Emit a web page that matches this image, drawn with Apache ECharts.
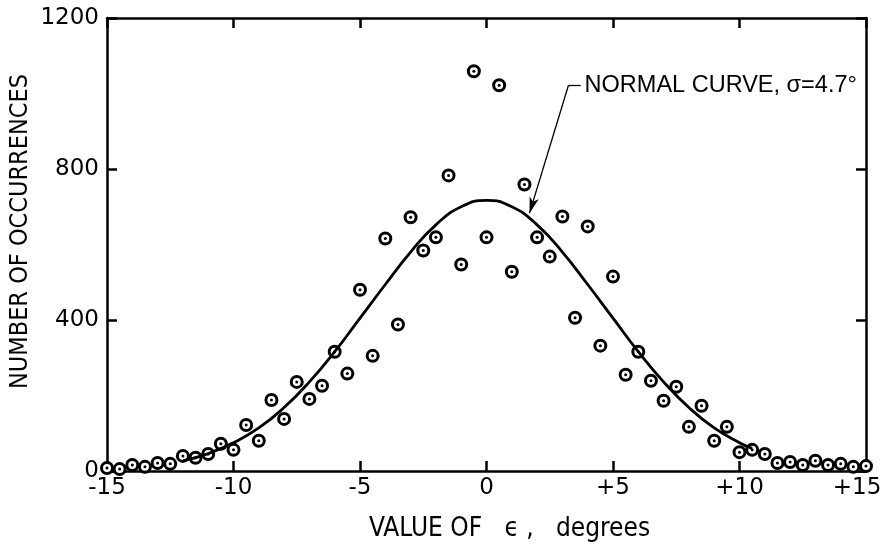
<!DOCTYPE html>
<html>
<head>
<meta charset="utf-8">
<script src="https://cdn.jsdelivr.net/npm/echarts@6/dist/echarts.min.js"></script>
<style>html,body{margin:0;padding:0;background:#fff;}#c{width:881px;height:549px;}</style>
</head>
<body>
<div id="c"></div>
<script>
// ---- data ----
const epsilon = [-15,-14.5,-14,-13.5,-13,-12.5,-12,-11.5,-11,-10.5,-10,-9.5,-9,-8.5,-8,-7.5,-7,-6.5,-6,-5.5,-5,-4.5,-4,-3.5,-3,-2.5,-2,-1.5,-1,-0.5,0,0.5,1,1.5,2,2.5,3,3.5,4,4.5,5,5.5,6,6.5,7,7.5,8,8.5,9,9.5,10,10.5,11,11.5,12,12.5,13,13.5,14,14.5,15];
const occurrences = [8,5,16,11,21,19,40,35,45,72,56,122,80,188,138,236,191,226,316,258,480,305,616,388,672,584,619,783,547,1059,619,1022,528,759,619,568,674,406,648,332,515,255,316,239,186,223,117,173,80,117,50,56,45,21,24,16,27,16,19,11,13];
const curveX = [-12,-11,-10,-9,-8,-7,-6,-5,-4,-3,-2,-1,0,1,2,3,4,5,6,7,8,9,10,10.5];
const curveY = [27,46,75,114,168,236,316,405,494,580,652,700,717,700,652,580,494,405,316,236,168,114,75,60];
const xTicks = [-15,-10,-5,0,5,10,15];
const yTicks = [0,400,800,1200];
const annotationText = 'NORMAL CURVE, \u03C3=4.7\u00B0';
const annotationAnchor = [3.72, 1022];
const annotationElbow = [3.24, 1022];
const arrowTip = [1.70, 683];

const pts = epsilon.map((x,i)=>[x, occurrences[i]]);
const curve = curveX.map((x,i)=>[x, curveY[i]]);

const labelFont = '"DejaVu Sans", sans-serif';
const narrowFont = '"Liberation Sans Narrow", "DejaVu Sans Condensed", "Liberation Sans", sans-serif';
const axisLine = {show:true, onZero:false, lineStyle:{color:'#000', width:2.5}};
const tick = {show:true, inside:true, length:10, lineStyle:{color:'#000', width:2.5}};
const tickText = {color:'#000', fontFamily:labelFont, fontSize:23};

const chart = echarts.init(document.getElementById('c'), null, {renderer:'canvas'});
chart.setOption({
  backgroundColor:'#fff',
  animation:false,
  grid:{left:107, right:15, top:18, bottom:78, show:false, containLabel:false, outerBoundsMode:'none'},
  xAxis:[{
    type:'value', min:-15, max:15, interval:5, position:'bottom',
    axisLine: axisLine, axisTick: tick, splitLine:{show:false},
    axisLabel:Object.assign({margin:6,
      formatter:v=> v===15 ? '{r|+15}' : (v>0 ? '+'+v : (v<0 ? '-'+Math.abs(v) : '0')),
      rich:{r:Object.assign({padding:[0,18,0,0]}, tickText)}}, tickText),
    name:'VALUE OF   \u03F5 ,   degrees', nameLocation:'middle', nameGap:45, nameMoveOverlap:false,
    nameTextStyle:{color:'#000', fontFamily:narrowFont, fontSize:26, padding:[0,0,0,46]}
  },{
    type:'value', min:-15, max:15, interval:5, position:'top',
    axisLine: axisLine, axisTick: tick, axisLabel:{show:false}, splitLine:{show:false}
  }],
  yAxis:[{
    type:'value', min:0, max:1200, interval:400, position:'left',
    axisLine: axisLine, axisTick: tick, splitLine:{show:false},
    axisLabel:Object.assign({margin:8, formatter:v=>String(v)}, tickText),
    name:'NUMBER OF OCCURRENCES', nameLocation:'middle', nameRotate:90, nameGap:74, nameMoveOverlap:false,
    nameTextStyle:{color:'#000', fontFamily:narrowFont, fontSize:25, padding:[0,0,0,26]}
  },{
    type:'value', min:0, max:1200, interval:400, position:'right',
    axisLine: axisLine, axisTick: tick, axisLabel:{show:false}, splitLine:{show:false}
  }],
  series:[{
    type:'line', data:curve, smooth:true, symbol:'none', clip:false,
    lineStyle:{color:'#000', width:2.8},
    markLine:{
      silent:true, animation:false,
      lineStyle:{color:'#000', width:1.3, type:'solid'},
      label:{show:false},
      symbol:['none','none'],
      data:[
        [{coord:annotationAnchor, symbol:'none'},{coord:annotationElbow, symbol:'none'}],
        [{coord:annotationElbow, symbol:'none'},{coord:arrowTip, symbol:'arrow', symbolSize:[7,16]}]
      ]
    },
    markPoint:{
      silent:true, animation:false,
      symbol:'circle', symbolSize:0,
      data:[{coord:annotationAnchor, value:'',
        label:{show:true, position:'right', distance:4, formatter:annotationText,
          color:'#000', fontFamily:'"Liberation Sans", Arial, sans-serif', fontSize:23.5}}]
    }
  },{
    type:'scatter', data:pts, symbol:'circle', symbolSize:11, clip:false,
    itemStyle:{color:'#fff', borderColor:'#000', borderWidth:3, opacity:1}
  },{
    type:'scatter', data:pts, symbol:'circle', symbolSize:3, clip:false,
    itemStyle:{color:'#000', opacity:1}
  }]
});
</script>
</body>
</html>
